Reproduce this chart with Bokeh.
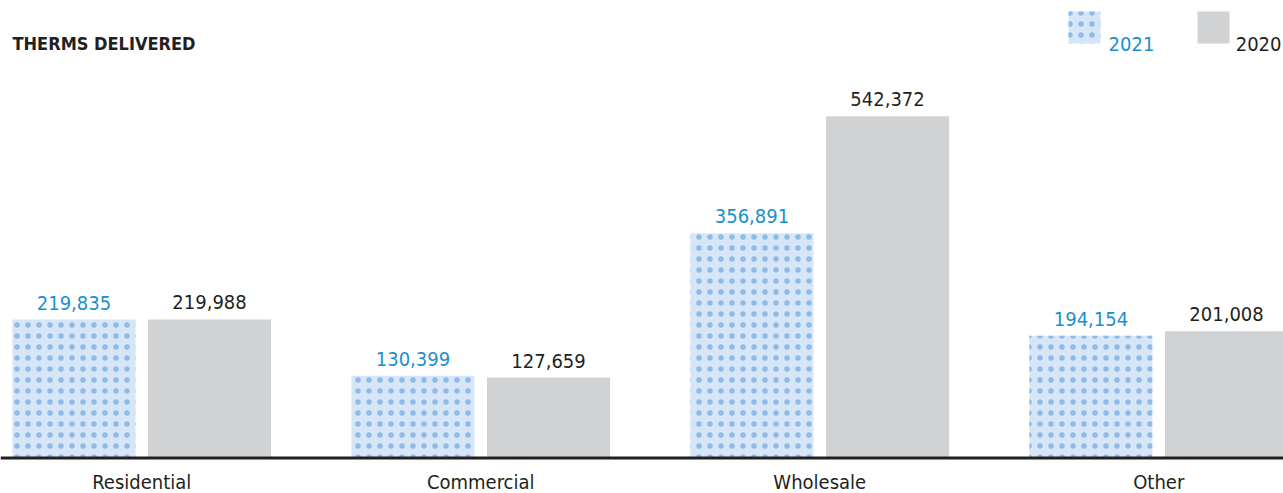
from bokeh.plotting import figure
from bokeh.models import ColumnDataSource, Range1d, LabelSet, Label, Legend, LegendItem, Span
from bokeh.core.properties import value
from bokeh.transform import dodge
from bokeh.embed import file_html
from bokeh.resources import INLINE

categories = ["Residential", "Commercial", "Wholesale", "Other"]
values_2021 = [219835, 130399, 356891, 194154]
values_2020 = [219988, 127659, 542372, 201008]
series_names = ["2021", "2020"]
title_text = "THERMS DELIVERED"

FONT = "DejaVu Sans Condensed"
BLUE_TXT = "#1a8fd0"
DARK = "#231f20"
GRAY = "#d1d2d4"
LIGHT_BLUE = "#d6e6f6"
DOT = "#8fbbe8"

src = ColumnDataSource(dict(
    idx=list(range(len(categories))),
    cat=categories,
    v21=values_2021,
    v20=values_2020,
    zero=[0] * len(categories),
    l21=[f"{v:,}" for v in values_2021],
    l20=[f"{v:,}" for v in values_2020],
))

p = figure(width=1283, height=493, output_backend="svg", toolbar_location=None,
           x_range=Range1d(-0.41667, 3.36799), y_range=Range1d(-56349, 726190),
           x_axis_location=None, y_axis_location=None,
           min_border=0, outline_line_color=None,
           background_fill_color="white", border_fill_color="white")
p.grid.visible = False

r21 = p.vbar(x=dodge("idx", -0.2, range=p.x_range), top="v21", width=0.363, source=src,
             fill_color=LIGHT_BLUE, line_color=None,
             hatch_pattern="dot", hatch_color=DOT, hatch_scale=11, hatch_weight=6)
r20 = p.vbar(x=dodge("idx", 0.2, range=p.x_range), top="v20", width=0.363, source=src,
             fill_color=GRAY, line_color=None)

p.add_layout(Span(location=0, dimension="width", line_color=DARK, line_width=3))

p.add_layout(LabelSet(x=dodge("idx", -0.2, range=p.x_range), y="v21", text="l21", source=src,
                      y_offset=10, text_align="center", text_baseline="alphabetic",
                      text_font=value(FONT), text_font_size=value("20px"), text_color=BLUE_TXT))
p.add_layout(LabelSet(x=dodge("idx", 0.2, range=p.x_range), y="v20", text="l20", source=src,
                      y_offset=10, text_align="center", text_baseline="alphabetic",
                      text_font=value(FONT), text_font_size=value("20px"), text_color=DARK))
p.add_layout(LabelSet(x="idx", y="zero", text="cat", source=src,
                      y_offset=-31, text_align="center", text_baseline="alphabetic",
                      text_font=value(FONT), text_font_size=value("20px"), text_color=DARK))

p.add_layout(Label(x=12, y=450, x_units="screen", y_units="screen", text=title_text,
                   text_font=FONT, text_font_size="18px", text_font_style="bold",
                   text_color=DARK, text_baseline="alphabetic"))

# legend swatches (glyph is drawn with a 10% inset, so 40px box -> 32px swatch)
for rend, xloc in [(r21, 1064), (r20, 1193)]:
    lg = Legend(items=[LegendItem(label=" ", renderers=[rend])], location=(xloc, 446),
                glyph_width=40, glyph_height=40, label_standoff=0, padding=0, margin=0,
                border_line_color=None, background_fill_alpha=0,
                label_text_font_size="1px", label_width=1, label_height=1)
    p.add_layout(lg)

p.add_layout(Label(x=1131, y=450, x_units="screen", y_units="screen", text=series_names[0],
                   text_font=FONT, text_font_size="20px", text_color=BLUE_TXT,
                   text_baseline="alphabetic", text_align="center"))
p.add_layout(Label(x=1281, y=450, x_units="screen", y_units="screen", text=series_names[1],
                   text_font=FONT, text_font_size="20px", text_color=DARK,
                   text_baseline="alphabetic", text_align="right"))

open("out.html", "w").write(file_html(p, INLINE))
